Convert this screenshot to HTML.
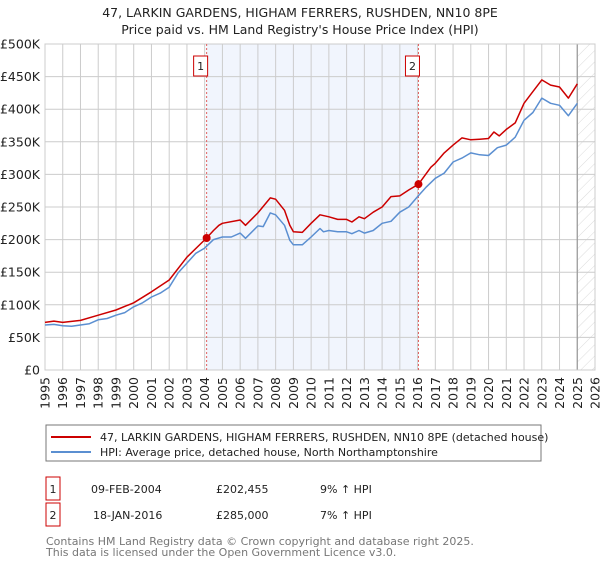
<!DOCTYPE html>
<html><head><meta charset="utf-8"><style>
body{margin:0;background:#fff;font-family:"Liberation Sans","DejaVu Sans",sans-serif;}
svg text{font-family:"DejaVu Sans","Liberation Sans",sans-serif;}
</style></head><body>
<svg id="c" width="600" height="560" viewBox="0 0 600 560" xmlns="http://www.w3.org/2000/svg">
<defs><pattern id="hatch" width="8" height="8" patternUnits="userSpaceOnUse" patternTransform="rotate(45)"><line x1="0" y1="0" x2="0" y2="8" stroke="#ccc" stroke-width="0.7"/></pattern></defs>
<text x="300" y="17" text-anchor="middle" font-size="12.5" fill="#222">47, LARKIN GARDENS, HIGHAM FERRERS, RUSHDEN, NN10 8PE</text>
<text x="300" y="34" text-anchor="middle" font-size="12.5" fill="#222">Price paid vs. HM Land Registry's House Price Index (HPI)</text>
<g id="plot"></g>
<rect x="46" y="425" width="495" height="36" fill="#fff" stroke="#777"/>
<line x1="51" y1="437" x2="91" y2="437" stroke="#cc0000" stroke-width="2"/>
<text x="100" y="441" font-size="11" fill="#222">47, LARKIN GARDENS, HIGHAM FERRERS, RUSHDEN, NN10 8PE (detached house)</text>
<line x1="51" y1="452" x2="91" y2="452" stroke="#5b8fd1" stroke-width="2"/>
<text x="100" y="456" font-size="11" fill="#222">HPI: Average price, detached house, North Northamptonshire</text>
<g>
<rect x="46" y="477" width="14" height="23" fill="#fff" stroke="#cc0000"/>
<text x="53" y="493" text-anchor="middle" font-size="11" fill="#222">1</text>
<text x="91" y="493" font-size="11" fill="#222">09-FEB-2004</text>
<text x="216" y="493" font-size="11" fill="#222">£202,455</text>
<text x="320" y="493" font-size="11" fill="#222">9% ↑ HPI</text></g>
<g>
<rect x="46" y="503" width="14" height="23" fill="#fff" stroke="#cc0000"/>
<text x="53" y="519" text-anchor="middle" font-size="11" fill="#222">2</text>
<text x="93" y="519" font-size="11" fill="#222">18-JAN-2016</text>
<text x="216" y="519" font-size="11" fill="#222">£285,000</text>
<text x="320" y="519" font-size="11" fill="#222">7% ↑ HPI</text></g>
<text x="46" y="545" font-size="11" fill="#777">Contains HM Land Registry data © Crown copyright and database right 2025.</text>
<text x="46" y="556" font-size="11" fill="#777">This data is licensed under the Open Government Licence v3.0.</text>
</svg>
<script>
const hpiYears=[1995,1995.5,1996,1996.5,1997,1997.5,1998,1998.5,1999,1999.5,2000,2000.5,2001,2001.5,2002,2002.5,2003,2003.5,2004,2004.5,2005,2005.5,2006,2006.3,2007,2007.3,2007.7,2008,2008.5,2008.8,2009,2009.5,2010,2010.5,2010.7,2011,2011.5,2012,2012.3,2012.7,2013,2013.5,2014,2014.5,2015,2015.5,2016,2016.5,2017,2017.5,2018,2018.5,2019,2019.5,2020,2020.5,2021,2021.5,2022,2022.5,2023,2023.5,2024,2024.5,2025];
const hpiValues=[69,70,68,67,69,71,77,79,84,88,97,103,112,118,127,149,164,179,187,200,204,204,210,202,221,220,241,238,222,199,192,192,204,217,212,214,212,212,209,214,210,214,225,228,242,250,266,281,294,302,319,325,333,330,329,341,345,357,383,395,417,409,406,390,409];
const priceYears=[1995,1995.5,1996,1997,1998,1999,2000,2001,2002,2003,2004.11,2004.5,2004.8,2005,2006,2006.3,2007,2007.7,2008,2008.5,2008.8,2009,2009.5,2010,2010.5,2011,2011.5,2012,2012.3,2012.7,2013,2013.5,2014,2014.5,2015,2015.5,2016.05,2016.75,2017,2017.5,2018,2018.5,2019,2019.5,2020,2020.3,2020.6,2021,2021.5,2022,2022.5,2023,2023.5,2024,2024.5,2025];
const priceValues=[73,75,73,76,84,92,103,120,138,173,202.455,214,222,225,230,222,241,264,262,245,222,212,211,225,238,235,231,231,227,235,232,242,250,266,267,276,285,311,317,333,345,356,353,354,355,365,359,369,379,409,427,445,437,434,417,439];
const saleYears=[2004.11,2016.05];
const saleValues=[202.455,285];
const yTicks=[0,50,100,150,200,250,300,350,400,450,500];
const yTickLabels=["£0","£50K","£100K","£150K","£200K","£250K","£300K","£350K","£400K","£450K","£500K"];
const xTicks=[1995,1996,1997,1998,1999,2000,2001,2002,2003,2004,2005,2006,2007,2008,2009,2010,2011,2012,2013,2014,2015,2016,2017,2018,2019,2020,2021,2022,2023,2024,2025,2026];

const L=45,R=595,T=44,B=370;
const sx=y=>L+(y-1995)/31*(R-L);
const sy=v=>B-v/500*(B-T);
const NS="http://www.w3.org/2000/svg";
const g=document.getElementById('plot');
function mk(tag,attrs,parent){const e=document.createElementNS(NS,tag);for(const k in attrs)e.setAttribute(k,attrs[k]);(parent||g).appendChild(e);return e;}
let sh=mk('rect',{x:sx(saleYears[0]),y:T,width:sx(saleYears[1])-sx(saleYears[0]),height:B-T,fill:'#f1f5fd'});


let hz=mk('rect',{x:sx(2025),y:T,width:R-sx(2025),height:B-T,fill:'url(#hatch)'});


yTicks.forEach((t,i)=>{
 let l=mk('line',{x1:L,x2:R,y1:sy(t),y2:sy(t),stroke:'#ccc','stroke-width':1});
 
 
 let tx=mk('text',{x:40,y:sy(t)+4.5,'text-anchor':'end','font-size':12.5,fill:'#222'});
 tx.textContent=yTickLabels[i];
 
 
});
xTicks.forEach(t=>{
 let l=mk('line',{x1:sx(t),x2:sx(t),y1:T,y2:B,stroke:'#ccc','stroke-width':1});
 
 
 let tx=mk('text',{x:0,y:0,'text-anchor':'end','font-size':12.5,fill:'#222',transform:`translate(${sx(t)+4.5},377) rotate(-90)`});
 tx.textContent=t;
 
 
});
let fl=mk('line',{x1:sx(2025),x2:sx(2025),y1:T,y2:B,stroke:'#999','stroke-width':1.2});


let bx=mk('rect',{x:L,y:T,width:R-L,height:B-T,fill:'none',stroke:'#ccc'});


saleYears.forEach((y,i)=>{
 let l=mk('line',{x1:sx(y),x2:sx(y),y1:T,y2:B,stroke:'#e06060','stroke-width':1,'stroke-dasharray':'2,2'});
 
 
 let r=mk('rect',{x:sx(y)-13,y:56,width:14,height:20,fill:'#fff',stroke:'#cc0000'});
 
 
 let t=mk('text',{x:sx(y)-6,y:70,'text-anchor':'middle','font-size':11,fill:'#222'});
 t.textContent=String(i+1);
 
 
});
function path(xs,vs){return xs.map((x,i)=>(i?'L':'M')+sx(x).toFixed(1)+','+sy(vs[i]).toFixed(1)).join('');}
let hp=mk('path',{d:path(hpiYears,hpiValues),fill:'none',stroke:'#5b8fd1','stroke-width':1.5,'stroke-linejoin':'round'});


let pp=mk('path',{d:path(priceYears,priceValues),fill:'none',stroke:'#cc0000','stroke-width':1.5,'stroke-linejoin':'round'});


saleYears.forEach((y,i)=>{
 let c=mk('circle',{cx:sx(y),cy:sy(saleValues[i]),r:4,fill:'#cc0000'});
 
 
});
</script>
</body></html>
